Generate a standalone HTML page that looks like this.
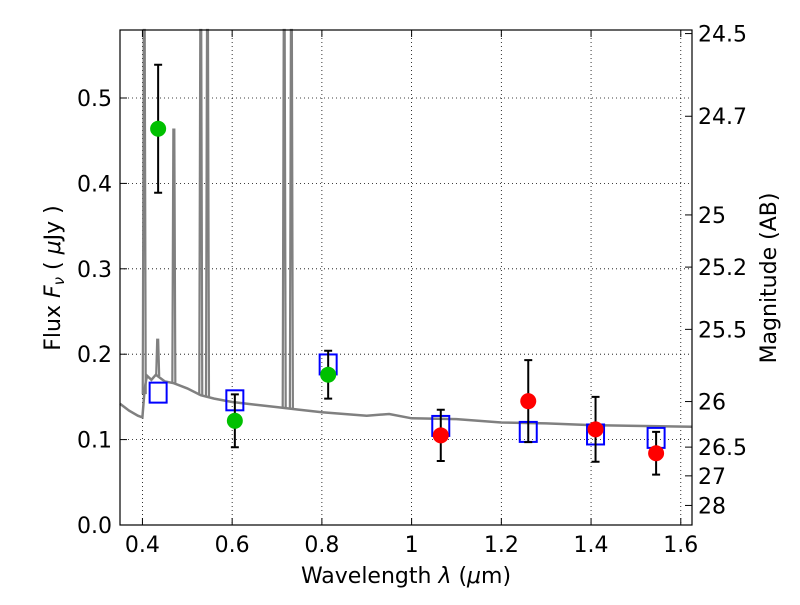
<!DOCTYPE html>
<html><head><meta charset="utf-8"><style>
body{margin:0;background:#fff;}
svg text{font-family:"DejaVu Sans","Liberation Sans",sans-serif;}
</style></head><body>
<svg id="c" width="800" height="600" xmlns="http://www.w3.org/2000/svg">
<rect width="800" height="600" fill="#fff"/>
<g id="grid"></g>
<g id="spec"></g>
<g id="marks"></g>
<rect x="120" y="30" width="572" height="495" fill="none" stroke="#000" stroke-width="1.2"/>
<g id="axes"></g>
<text x="406" y="583" font-size="22" text-anchor="middle">Wavelength  <tspan font-style="italic">λ</tspan> (<tspan font-style="italic">μ</tspan>m)</text>
<text transform="translate(60,278) rotate(-90)" font-size="22" text-anchor="middle">Flux  <tspan font-style="italic">F</tspan><tspan font-style="italic" font-size="15" dy="4">ν</tspan><tspan dy="-4">  ( </tspan><tspan font-style="italic">μ</tspan>Jy )</text>
<text transform="translate(776,278) rotate(-90)" font-size="22" text-anchor="middle">Magnitude (AB)</text>
</svg>
<script>
const xTicks=[0.4,0.6,0.8,1.0,1.2,1.4,1.6];
const xTickLabels=["0.4","0.6","0.8","1","1.2","1.4","1.6"];
const yTicks=[0,0.1,0.2,0.3,0.4,0.5];
const yTickLabels=["0.0","0.1","0.2","0.3","0.4","0.5"];
const magTicks=[24.5,24.7,25,25.2,25.5,26,26.5,27,28];
const magTickLabels=["24.5","24.7","25","25.2","25.5","26","26.5","27","28"];
const contWave=[0.35,0.37,0.39,0.40,0.405,0.41,0.42,0.43,0.44,0.45,0.47,0.50,0.53,0.56,0.60,0.65,0.70,0.75,0.80,0.85,0.90,0.95,1.0,1.1,1.2,1.3,1.4,1.5,1.625];
const contFlux=[0.142,0.134,0.128,0.126,0.160,0.175,0.170,0.176,0.172,0.168,0.166,0.160,0.152,0.148,0.144,0.141,0.138,0.135,0.132,0.130,0.128,0.130,0.125,0.124,0.120,0.119,0.117,0.116,0.115];
const lineWave=[0.404,0.434,0.470,0.530,0.545,0.716,0.732];
const linePeak=[0.60,0.217,0.463,0.60,0.60,0.60,0.60];
const modelWave=[0.435,0.606,0.814,1.065,1.26,1.41,1.545];
const modelFlux=[0.155,0.146,0.188,0.116,0.109,0.106,0.102];
const greenWave=[0.435,0.606,0.814];
const greenFlux=[0.464,0.122,0.176];
const greenErr=[0.075,0.031,0.028];
const redWave=[1.065,1.26,1.41,1.545];
const redFlux=[0.105,0.145,0.112,0.084];
const redErr=[0.030,0.048,0.038,0.025];
const X=v=>120+(v-0.35)/(1.625-0.35)*572;
const Y=v=>525-v*854;
const ns="http://www.w3.org/2000/svg";
function mk(p,t,a){const e=document.createElementNS(ns,t);for(const k in a)e.setAttribute(k,a[k]);p.appendChild(e);return e;}
const grid=document.getElementById('grid'),axes=document.getElementById('axes');
xTicks.forEach((t,i)=>{const x=X(t);
 let g=mk(grid,'line',{x1:x,x2:x,y1:30,y2:525,stroke:'#000','stroke-width':0.8,'stroke-dasharray':'1,3'});
 
 mk(axes,'line',{x1:x,x2:x,y1:525,y2:518,stroke:'#000'});mk(axes,'line',{x1:x,x2:x,y1:30,y2:37,stroke:'#000'});
 let l=mk(axes,'text',{x:x,y:552,'font-size':22,'text-anchor':'middle'});l.textContent=xTickLabels[i];
 });
yTicks.forEach((t,i)=>{const y=Y(t);
 let g=mk(grid,'line',{x1:120,x2:692,y1:y,y2:y,stroke:'#000','stroke-width':0.8,'stroke-dasharray':'1,3'});
 
 mk(axes,'line',{x1:120,x2:127,y1:y,y2:y,stroke:'#000'});
 let l=mk(axes,'text',{x:112,y:y+8,'font-size':22,'text-anchor':'end'});l.textContent=yTickLabels[i];
 });
magTicks.forEach((m,i)=>{const y=Y(Math.pow(10,(23.9-m)/2.5));
 mk(axes,'line',{x1:685,x2:692,y1:y,y2:y,stroke:'#000'});
 let l=mk(axes,'text',{x:698,y:y+8,'font-size':22});l.textContent=magTickLabels[i];
 });
const spec=document.getElementById('spec');
let d='';contWave.forEach((w,i)=>{d+=(i?'L':'M')+X(w).toFixed(1)+','+Y(contFlux[i]).toFixed(1);});
let cp=mk(spec,'path',{d:d,fill:'none',stroke:'#808080','stroke-width':2.5});

function interp(w){for(let i=1;i<contWave.length;i++)if(w<=contWave[i]){const f=(w-contWave[i-1])/(contWave[i]-contWave[i-1]);return contFlux[i-1]+f*(contFlux[i]-contFlux[i-1]);}return contFlux[contFlux.length-1];}
lineWave.forEach((w,i)=>{const x=X(w),b=interp(w),top=Math.max(30,Y(linePeak[i]));
 let p=mk(spec,'path',{d:`M${x-1.5},${Y(b)}L${x-0.5},${top}L${x+0.5},${top}L${x+1.5},${Y(b)}`,fill:'none',stroke:'#808080','stroke-width':2.2});
 });
const marks=document.getElementById('marks');
modelWave.forEach((w,i)=>{let r=mk(marks,'rect',{x:X(w)-8.5,y:Y(modelFlux[i])-10,width:17,height:20,fill:'none',stroke:'#0000ff','stroke-width':2});
 });
function pts(ws,fs,es,col,name){ws.forEach((w,i)=>{const x=X(w),y1=Y(fs[i]-es[i]),y2=Y(fs[i]+es[i]);
 let e=mk(marks,'path',{d:`M${x},${y1}V${y2}M${x-4},${y1}H${x+4}M${x-4},${y2}H${x+4}`,stroke:'#000','stroke-width':2,fill:'none'});
 
 let c=mk(marks,'circle',{cx:x,cy:Y(fs[i]),r:8,fill:col});
 });}
pts(greenWave,greenFlux,greenErr,'#00c000','hst-point');
pts(redWave,redFlux,redErr,'#ff0000','ir-point');
</script>
</body></html>
